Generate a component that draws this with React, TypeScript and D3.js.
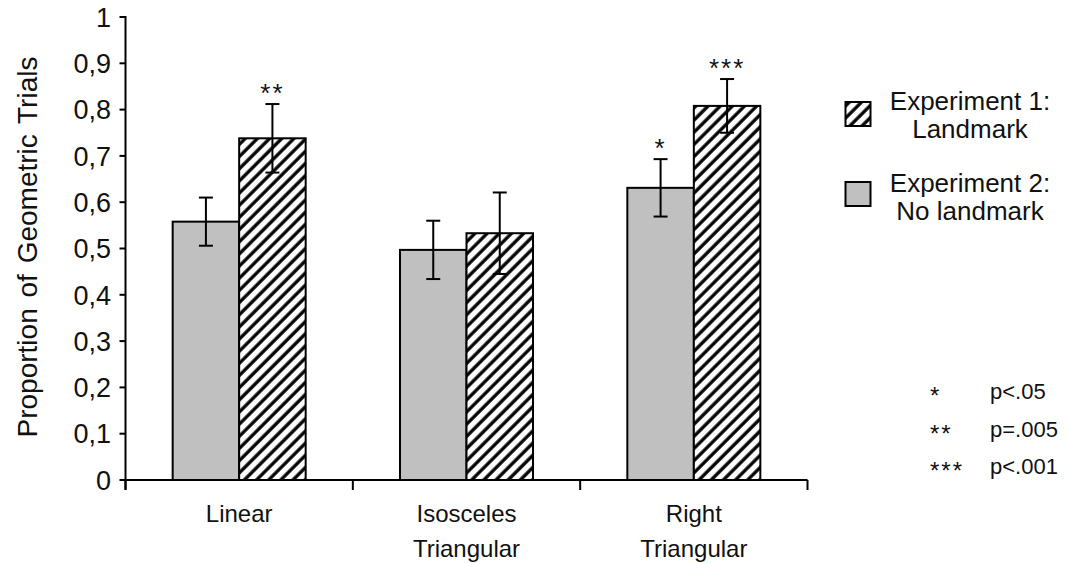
import React from "react";
import * as d3 from "d3";

const categories: string[][] = [["Linear"], ["Isosceles", "Triangular"], ["Right", "Triangular"]];
const categoryKeys = ["Linear", "Isosceles", "Right"];
const seriesKeys = ["exp2", "exp1"];
const exp2Values = [0.558, 0.497, 0.631];
const exp2Errors = [0.052, 0.063, 0.062];
const exp1Values = [0.738, 0.533, 0.808];
const exp1Errors = [0.074, 0.088, 0.058];
const yTicks = [0, 0.1, 0.2, 0.3, 0.4, 0.5, 0.6, 0.7, 0.8, 0.9, 1];
const significance = [
  { cat: "Linear", series: "exp1", text: "**" },
  { cat: "Right", series: "exp2", text: "*" },
  { cat: "Right", series: "exp1", text: "***" },
];
const legendItems = [
  { series: "exp1", lines: ["Experiment 1:", "Landmark"] },
  { series: "exp2", lines: ["Experiment 2:", "No landmark"] },
];
const pLegend = [
  { stars: "*", text: "p<.05" },
  { stars: "**", text: "p=.005" },
  { stars: "***", text: "p<.001" },
];

const W = 1067;
const H = 563;
const FONT = "'Liberation Sans', Arial, sans-serif";

export default function App() {
  const left = 125.5;
  const right = 807.5;
  const top = 17;
  const bottom = 480;

  const y = d3.scaleLinear().domain([0, 1]).range([bottom, top]);
  const x0 = d3.scaleBand<string>().domain(categoryKeys).range([left, right]).padding(0);
  const bw = x0.bandwidth();
  const barW = 66.5;
  const x1 = d3
    .scaleBand<string>()
    .domain(seriesKeys)
    .range([bw / 2 - barW, bw / 2 + barW])
    .padding(0);

  const values: Record<string, number[]> = { exp1: exp1Values, exp2: exp2Values };
  const errors: Record<string, number[]> = { exp1: exp1Errors, exp2: exp2Errors };
  const fillFor = (s: string) => (s === "exp1" ? "url(#hatch)" : "#c0c0c0");

  const fmt = (v: number) => (v === 0 || v === 1 ? String(v) : d3.format(".1f")(v).replace(".", ","));

  const catTicks = [left, ...categoryKeys.map((c) => (x0(c) as number) + bw)];

  return (
    <svg
      width={W}
      height={H}
      style={{ position: "absolute", left: 0, top: 0, background: "#fff" }}
      fontFamily={FONT}
    >
      <defs>
        <pattern
          id="hatch"
          patternUnits="userSpaceOnUse"
          width={8.6}
          height={8.6}
          patternTransform="rotate(45)"
        >
          <rect width={8.6} height={8.6} fill="#fff" />
          <line x1={2} y1={0} x2={2} y2={8.6} stroke="#000" strokeWidth={3.3} />
        </pattern>
      </defs>

      {/* bars */}
      {categoryKeys.map((c, i) => (
        <g key={c} transform={`translate(${x0(c)},0)`}>
          {seriesKeys.map((s) => {
            const v = values[s][i];
            const e = errors[s][i];
            const bx = x1(s) as number;
            const cx = bx + x1.bandwidth() / 2;
            return (
              <g key={s}>
                <rect
                  x={bx}
                  y={y(v)}
                  width={x1.bandwidth()}
                  height={y(0) - y(v)}
                  fill={fillFor(s)}
                  stroke="#000"
                  strokeWidth={2}
                />
                <line x1={cx} x2={cx} y1={y(v + e)} y2={y(v - e)} stroke="#000" strokeWidth={2} />
                <line x1={cx - 7} x2={cx + 7} y1={y(v + e)} y2={y(v + e)} stroke="#000" strokeWidth={2} />
                <line x1={cx - 7} x2={cx + 7} y1={y(v - e)} y2={y(v - e)} stroke="#000" strokeWidth={2} />
              </g>
            );
          })}
        </g>
      ))}

      {/* significance stars */}
      {significance.map((a, k) => {
        const i = categoryKeys.indexOf(a.cat);
        const cx = (x0(a.cat) as number) + (x1(a.series) as number) + x1.bandwidth() / 2;
        const yTop = y(values[a.series][i] + errors[a.series][i]);
        return (
          <text
            key={k}
            x={cx}
            y={yTop - 2}
            textAnchor="middle"
            fontSize={26}
            letterSpacing={2}
            fill="#111"
          >
            {a.text}
          </text>
        );
      })}

      {/* y axis */}
      <line x1={left} x2={left} y1={top - 1} y2={bottom + 10} stroke="#000" strokeWidth={2} />
      {yTicks.map((t) => (
        <g key={t}>
          <line x1={left - 6} x2={left} y1={y(t)} y2={y(t)} stroke="#000" strokeWidth={2} />
          <text
            x={111}
            y={y(t)}
            dy="0.36em"
            textAnchor="end"
            fontSize={27}
            fill="#111"
          >
            {fmt(t)}
          </text>
        </g>
      ))}

      {/* x axis */}
      <line x1={left} x2={right} y1={bottom} y2={bottom} stroke="#000" strokeWidth={2} />
      {catTicks.map((t, k) => (
        <line key={k} x1={t} x2={t} y1={bottom} y2={bottom + 10} stroke="#000" strokeWidth={2} />
      ))}
      {categoryKeys.map((c, i) => (
        <text key={c} textAnchor="middle" fontSize={24} fill="#111">
          {categories[i].map((line, j) => (
            <tspan key={j} x={(x0(c) as number) + bw / 2} y={522 + j * 35}>
              {line}
            </tspan>
          ))}
        </text>
      ))}

      {/* y title */}
      <text
        transform={`translate(37,247) rotate(-90)`}
        textAnchor="middle"
        fontSize={28}
        fill="#111"
        wordSpacing={3}
      >
        Proportion of Geometric Trials
      </text>

      {/* legend */}
      {legendItems.map((it, k) => {
        const by = k === 0 ? 102 : 182;
        const ty = k === 0 ? 110 : 192;
        return (
          <g key={it.series}>
            <rect
              x={845.5}
              y={by}
              width={25}
              height={24}
              fill={fillFor(it.series)}
              stroke="#000"
              strokeWidth={2}
            />
            {it.lines.map((line, j) => (
              <text key={j} x={970} y={ty + j * 28} textAnchor="middle" fontSize={26} fill="#111">
                {line}
              </text>
            ))}
          </g>
        );
      })}

      {/* p-value legend */}
      {pLegend.map((p, k) => (
        <g key={k}>
          <text x={930} y={404 + k * 37.5} fontSize={24} letterSpacing={2} fill="#111">
            {p.stars}
          </text>
          <text x={990} y={399 + k * 37.5} fontSize={22} fill="#111">
            {p.text}
          </text>
        </g>
      ))}
    </svg>
  );
}
